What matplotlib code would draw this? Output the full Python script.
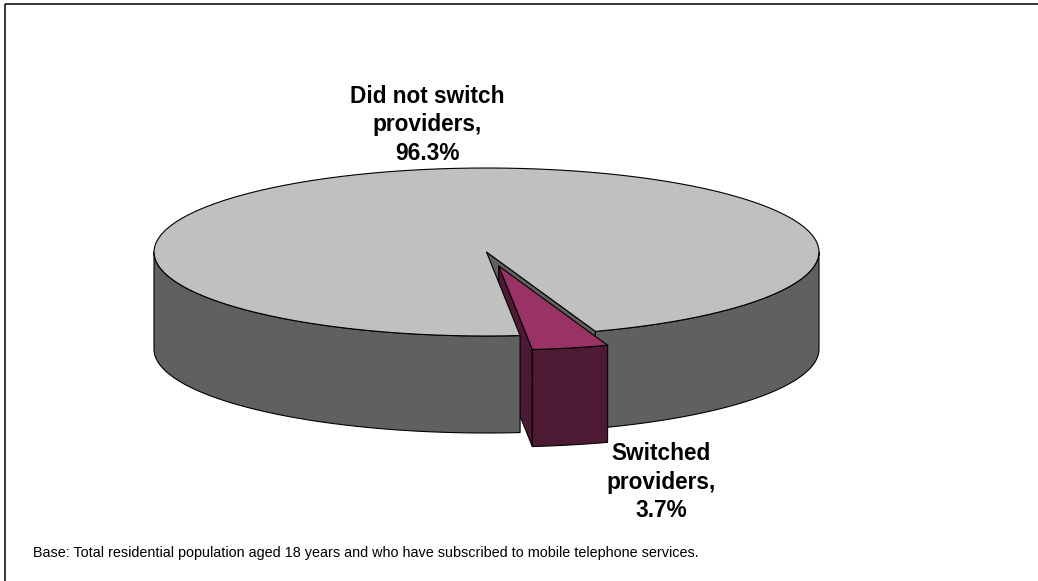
import numpy as np
import matplotlib
matplotlib.use("Agg")
import matplotlib.pyplot as plt
from matplotlib.patches import Polygon
from matplotlib.colors import to_rgb

# ---- data -------------------------------------------------------------
categories = ["Did not switch providers", "Switched providers"]
shares = [96.3, 3.7]                     # percent of subscribers
explode = [0.0, 0.17]                     # fraction of radius each slice is pulled out
top_colors = ["#C0C0C0", "#993366"]
label_lines = [["Did not switch", "providers,"], ["Switched", "providers,"]]
footnote = ("Base: Total residential population aged 18 years and who have "
            "subscribed to mobile telephone services.")

# ---- 3-D pie geometry (pixel space) -----------------------------------
W, H = 1038, 581
cx, cy = 486.5, 252.0        # centre of the top ellipse
rx, ry = 332.5, 84.0         # ellipse radii
depth = 97.0                 # thickness of the pie
first_angle = 174.2          # start of first slice, clockwise from 12 o'clock

fig = plt.figure(figsize=(W / 100, H / 100), dpi=100)
ax = fig.add_axes([0, 0, 1, 1])
ax.set_xlim(0, W)
ax.set_ylim(H, 0)
ax.axis("off")

EDGE = dict(edgecolor="black", linewidth=0.8, joinstyle="round")


def shade(color, f=0.5):
    r, g, b = to_rgb(color)
    return (r * f, g * f, b * f)


def rim(a_deg, off, drop=0.0):
    a = np.radians(a_deg)
    return (cx + off[0] + rx * np.sin(a), cy + off[1] - ry * np.cos(a) + drop)


def arc(a0, a1, off, drop=0.0, n=120):
    a = np.radians(np.linspace(a0, a1, n))
    return np.column_stack([cx + off[0] + rx * np.sin(a),
                            cy + off[1] - ry * np.cos(a) + drop])


total = float(sum(shares))
slices = []
start = first_angle
for i, v in enumerate(shares):
    span = v / total * 360.0
    a0, a1 = start, start + span
    mid = np.radians((a0 + a1) / 2)
    off = (explode[i] * rx * np.sin(mid), -explode[i] * ry * np.cos(mid))
    slices.append(dict(a0=a0, a1=a1, off=off, top=top_colors[i],
                       side=shade(top_colors[i]), exploded=explode[i] > 0))
    start = a1


def draw_walls(s):
    c_top = (cx + s["off"][0], cy + s["off"][1])
    c_bot = (c_top[0], c_top[1] + depth)
    # wall at the slice start faces the viewer when sin(a0) < 0,
    # wall at the slice end when sin(a1) > 0
    for ang, visible in ((s["a0"], np.sin(np.radians(s["a0"])) < 0),
                         (s["a1"], np.sin(np.radians(s["a1"])) > 0)):
        if visible:
            pts = [c_top, rim(ang, s["off"]), rim(ang, s["off"], depth), c_bot]
            ax.add_patch(Polygon(pts, closed=True, facecolor=s["side"], **EDGE))


def draw_side(s):
    # visible part of the outer wall: front half of the ellipse
    for m in range(-1, 3):
        lo = max(s["a0"], 90 + 360 * m)
        hi = min(s["a1"], 270 + 360 * m)
        if hi > lo:
            top = arc(lo, hi, s["off"])
            bot = arc(lo, hi, s["off"], depth)[::-1]
            ax.add_patch(Polygon(np.vstack([top, bot]), closed=True,
                                 facecolor=s["side"], **EDGE))


def draw_top(s):
    c_top = (cx + s["off"][0], cy + s["off"][1])
    pts = np.vstack([[c_top], arc(s["a0"], s["a1"], s["off"])])
    ax.add_patch(Polygon(pts, closed=True, facecolor=s["top"], **EDGE))


back = [s for s in slices if not s["exploded"]]
front = [s for s in slices if s["exploded"]]
for s in back:
    draw_walls(s)
for s in front:
    draw_walls(s)
for s in back:
    draw_side(s)
    draw_top(s)
for s in front:
    draw_side(s)
    draw_top(s)

# ---- data labels -------------------------------------------------------
label_pos = [(427, 103), (661, 460)]     # centre x, baseline of first line
line_step = 28.5
for lines, v, (lx, ly) in zip(label_lines, shares, label_pos):
    for j, txt in enumerate(lines + [f"{v}%"]):
        ax.text(lx, ly + j * line_step, txt, ha="center", va="baseline",
                fontsize=16.3, fontweight="bold", family="Liberation Sans",
                color="black")

ax.text(33, 557, footnote, ha="left", va="baseline", fontsize=10.4,
        family="Liberation Sans", color="black")

# chart-area frame (top and left edges)
ax.plot([5, W], [4, 4], color="black", lw=1.1, solid_capstyle="butt")
ax.plot([5, 5], [4, H], color="black", lw=1.1, solid_capstyle="butt")

fig.savefig("out.png", dpi=100)
